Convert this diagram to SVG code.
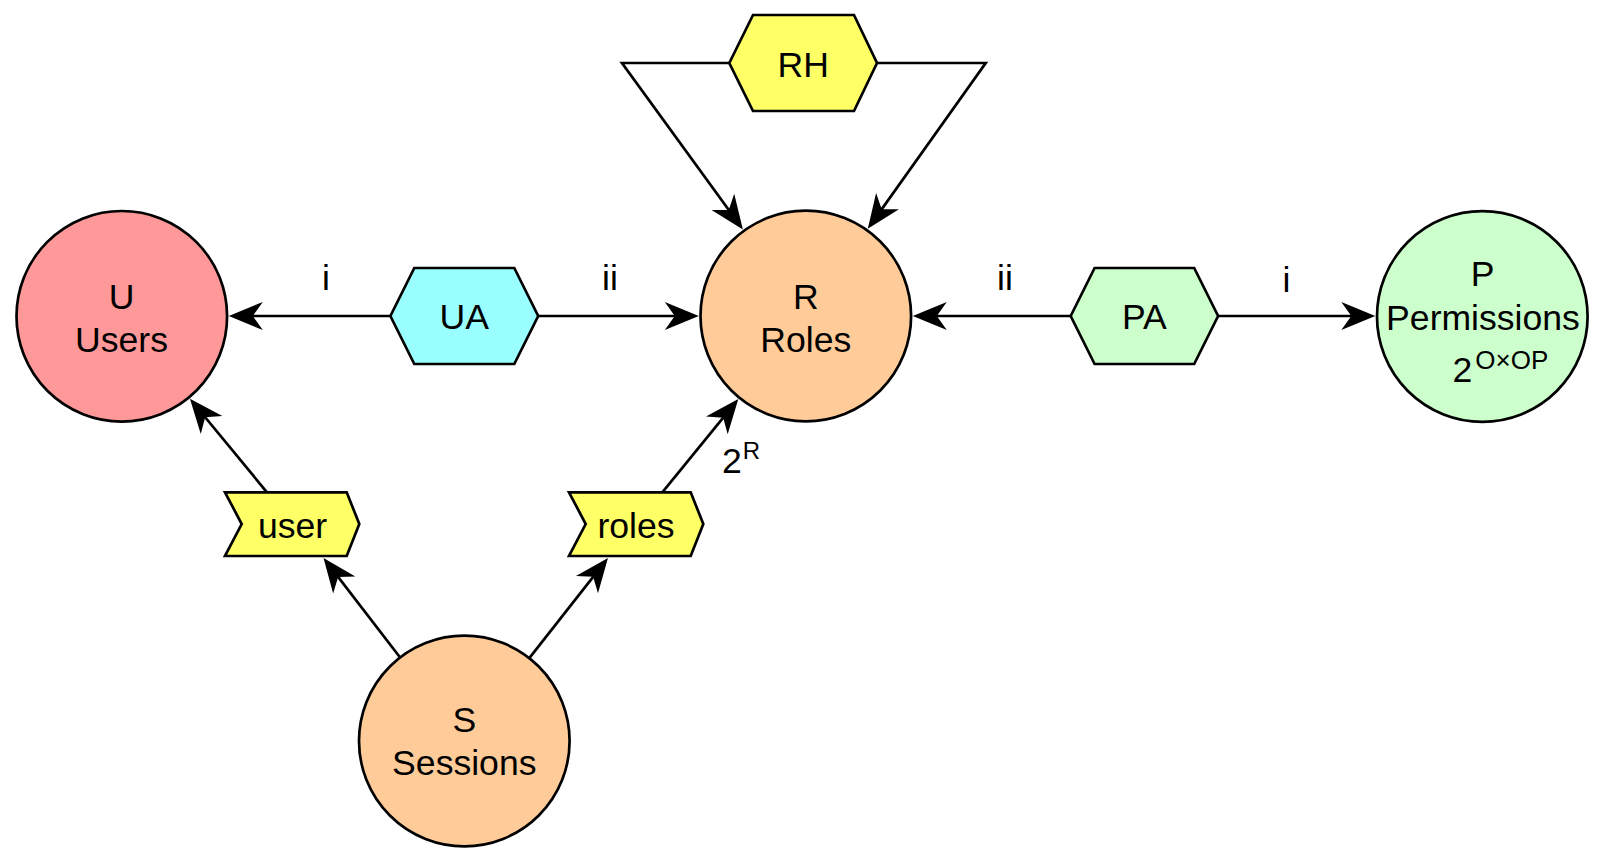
<svg xmlns="http://www.w3.org/2000/svg" width="1605" height="861" viewBox="0 0 1605 861">
<style>
.n{stroke:#000;stroke-width:2.7;stroke-linejoin:miter}
.t{font-family:"Liberation Sans",Arial,sans-serif;font-size:35.6px;fill:#000;text-anchor:middle}
.s{font-size:26px}
.r{font-size:24px}
.e{fill:none;stroke:#000;stroke-width:2.7;marker-end:url(#arr)}
</style>
<defs>
<marker id="arr" markerUnits="userSpaceOnUse" orient="auto" refX="0" refY="0" markerWidth="40" markerHeight="30" overflow="visible">
<path d="M10,0 L-24,-14 L-14,0 L-24,14 Z" fill="#000"/>
</marker>
</defs>
<rect width="1605" height="861" fill="#fff"/>
<g id="edges">
<path class="e" d="M390.4,316 L238.8,316"/>
<path class="e" d="M538.2,316 L688.8,316"/>
<path class="e" d="M1070.7,316 L922.8,316"/>
<path class="e" d="M1218.1,316 L1365.3,316"/>
<path class="e" d="M729.3,63 L622,63 L737,221.3"/>
<path class="e" d="M877,63 L985.7,63 L873.6,220.6"/>
<path class="e" d="M267,492.3 L196.3,406.5"/>
<path class="e" d="M400.3,657.8 L329.6,565.9"/>
<path class="e" d="M529.1,658.4 L601.8,565.8"/>
<path class="e" d="M662.3,492.4 L732,406.8"/>
<text class="t" x="326" y="290">i</text>
<text class="t" x="610" y="290">ii</text>
<text class="t" x="1005" y="290">ii</text>
<text class="t" x="1286.5" y="292">i</text>
<text class="t" x="722" y="472.7" style="text-anchor:start">2<tspan class="r" dx="1" dy="-13.7">R</tspan></text>
</g>
<g id="U">
<circle class="n" cx="121.8" cy="316.3" r="105.3" fill="#FF9999"/>
<text class="t" x="121.5" y="309">U</text>
<text class="t" x="121.5" y="352">Users</text>
</g>
<g id="R">
<circle class="n" cx="805.8" cy="316" r="105.3" fill="#FFCC99"/>
<text class="t" x="805.8" y="308.5">R</text>
<text class="t" x="805.8" y="351.7">Roles</text>
</g>
<g id="P">
<circle class="n" cx="1482.3" cy="316.5" r="105.3" fill="#CCFFCC"/>
<text class="t" x="1482.5" y="285.5">P</text>
<text class="t" x="1483" y="329.5">Permissions</text>
<text class="t" x="1452.5" y="381.7" style="text-anchor:start">2<tspan class="s" dx="3" dy="-12.4">O×OP</tspan></text>
</g>
<g id="S">
<circle class="n" cx="464.3" cy="741" r="105.3" fill="#FFCC99"/>
<text class="t" x="464.3" y="731.7">S</text>
<text class="t" x="464.3" y="775.3">Sessions</text>
</g>
<g id="UA">
<polygon class="n" points="390.4,316 414.3,268 514.3,268 538.2,316 514.3,364 414.3,364" fill="#99FFFF"/>
<text class="t" x="464.3" y="329">UA</text>
</g>
<g id="RH">
<polygon class="n" points="729.3,63 753,15 854,15 877,63 854,111 753,111" fill="#FFFF66"/>
<text class="t" x="803.2" y="77">RH</text>
</g>
<g id="PA">
<polygon class="n" points="1070.7,316 1094.6,268 1194.2,268 1218.1,316 1194.2,364 1094.6,364" fill="#CCFFCC"/>
<text class="t" x="1144.4" y="329">PA</text>
</g>
<g id="user">
<polygon class="n" points="225,492.3 346.7,492.3 359.3,524 346.7,556 225,556 241.7,524" fill="#FFFF66"/>
<text class="t" x="292.5" y="538.3">user</text>
</g>
<g id="roles">
<polygon class="n" points="569,492.3 690.7,492.3 703.3,524 690.7,556 569,556 585.7,524" fill="#FFFF66"/>
<text class="t" x="636" y="538.3">roles</text>
</g>
</svg>
